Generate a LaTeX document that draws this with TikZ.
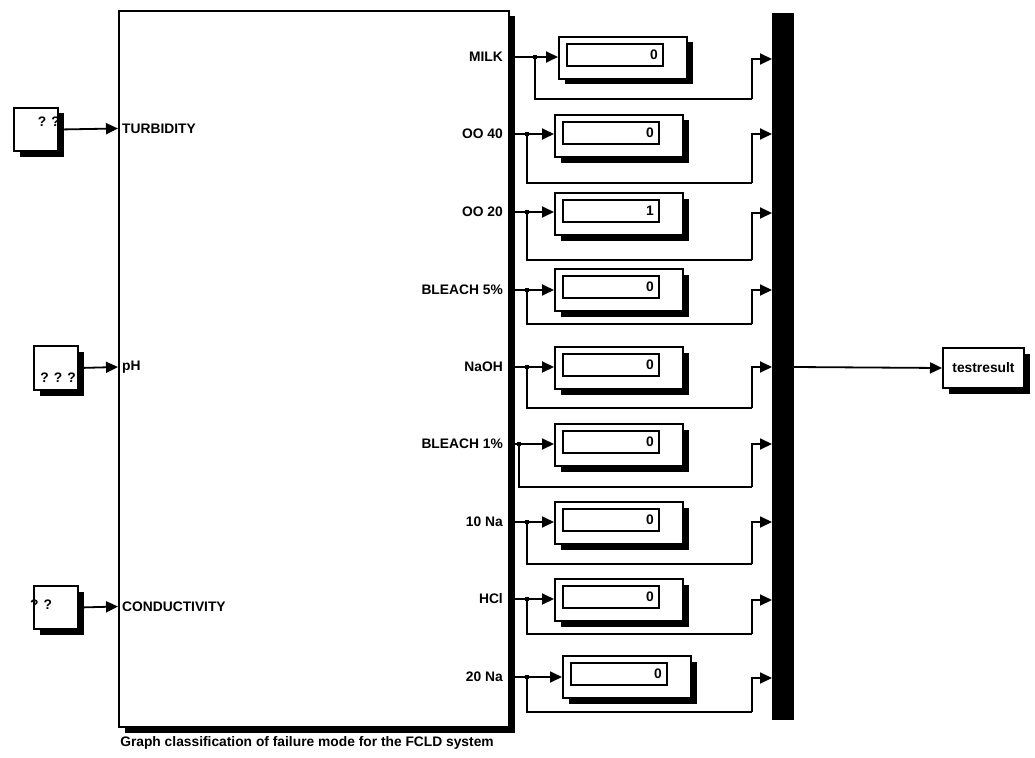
\documentclass[tikz,border=0pt]{standalone}
\usepackage{fontspec}
\setmainfont{Liberation Sans}
\usetikzlibrary{arrows.meta,shadows,calc}
\tikzset{
  lbl/.style={font=\bfseries\fontsize{13.8}{15}\selectfont, inner sep=0pt},
  blk/.style={draw, line width=2pt, fill=white, anchor=north west, inner sep=0pt,
    general shadow={fill=black, shadow xshift=5.5pt, shadow yshift=-5.5pt}},
  dispbox/.style={blk, minimum width=128pt, minimum height=42pt},
  valbox/.style={draw, line width=2pt, fill=white, anchor=north west, inner sep=0pt, minimum width=96pt, minimum height=22pt},
  conn/.style={line width=1.8pt},
  arr/.style={conn, -{Triangle[length=12pt,width=11pt]}},
  dotmark/.style={fill=black, inner sep=0pt, minimum size=4.5pt},
}
\begin{document}
\begin{tikzpicture}[x=1pt,y=-1pt]
\useasboundingbox (0,0) rectangle (1035,757);

% main block
\node[blk, minimum width=390pt, minimum height=716pt] (main) at (118,10) {};
\node[lbl] (cap) at (307,743) {Graph classification of failure mode for the FCLD system};

% inputs
\node[blk, minimum width=44pt, minimum height=43pt] (s1) at (13,107) {};
\node[lbl, anchor=east] (q1) at (60,122) {? ?};
\coordinate (i1) at (118,128.5);
\node[lbl, anchor=west] (n1) at (122,128.5) {TURBIDITY};
\draw[arr] (s1.east) -- (i1);

\node[blk, minimum width=44pt, minimum height=44pt] (s2) at (33,345) {};
\node[lbl, anchor=east] (q2) at (76,378) {? ? ?};
\coordinate (i2) at (118,367);
\node[lbl, anchor=west] (n2) at (122,367) {pH};
\draw[arr] (s2.east) -- (i2);

\node[blk, minimum width=44pt, minimum height=43pt] (s3) at (33,585) {};
\node[lbl, anchor=west] (q3) at (30,605) {? ?};
\coordinate (i3) at (118,606.5);
\node[lbl, anchor=west] (n3) at (122,606.5) {CONDUCTIVITY};
\draw[arr] (s3.east) -- (i3);

% mux bar
\node[fill=black, draw=none, anchor=north west, inner sep=0pt, minimum width=22pt, minimum height=707pt] (mux) at (772,13) {};

% output
\node[blk, minimum width=81pt, minimum height=40pt] (tr) at (942,347) {};
\node[lbl] (trt) at (tr.center) {testresult};
\coordinate (mo) at (794,367);
\draw[arr] (mo) -- (tr.west);

% rows: index / label / port y / branch x / loop y / disp x / disp y / value / mux y
\foreach \k/\name/\py/\bx/\ly/\dx/\dy/\val/\my in {
  1/MILK/57/535/99/558/36/0/59,
  2/OO 40/134/527/183/554/114/0/134,
  3/OO 20/212/527/260/554/192/1/213,
  4/BLEACH 5\%/290/527/324/554/268/0/290,
  5/NaOH/367/527/408/554/346/0/367,
  6/BLEACH 1\%/444/519/487/554/423/0/444,
  7/10 Na/522/527/564/554/501/0/522,
  8/HCl/599/527/634/554/578/0/600,
  9/20 Na/677/527/712/562/655/0/678}
{
  \coordinate (o\k) at (508,\py);
  \node[lbl, anchor=east] (p\k) at (503,\py) {\name};
  \node[dispbox] (d\k) at (\dx,\dy) {};
  \node[valbox] (v\k) at ($(d\k.north west)+(8,7)$) {};
  \node[lbl, anchor=east] (t\k) at ($(v\k.east)+(-6,0)$) {\val};
  \coordinate (b\k) at (\bx,\py);
  \coordinate (r\k) at (752,\ly);
  \coordinate (m\k) at (772,\my);
  \draw[arr] (o\k) -- (o\k -| d\k.west);
  \draw[conn] (b\k) |- (r\k);
  \draw[arr] (r\k) |- (m\k);
  \node[dotmark] at (b\k) {};
}
\end{tikzpicture}
\end{document}
